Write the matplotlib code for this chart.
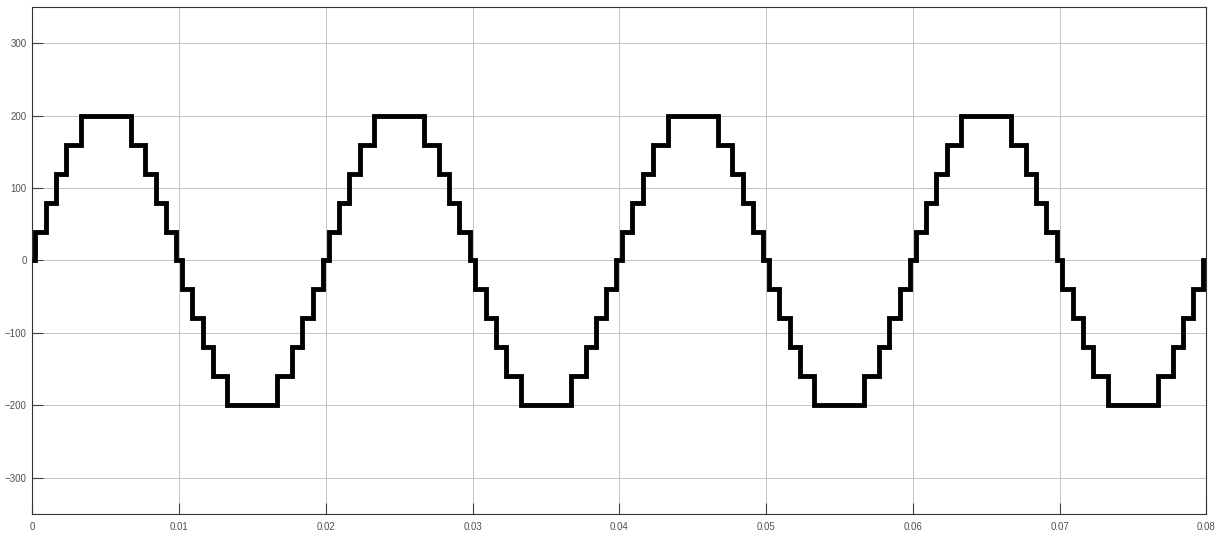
import matplotlib.pyplot as plt

# step instants (s), 4 cycles of 50 Hz
times = [0.0,
         0.0002, 0.0009, 0.0016, 0.0023, 0.0033, 0.0067, 0.0077, 0.0084, 0.0091, 0.0098,
         0.0102, 0.0109, 0.0116, 0.0123, 0.0133, 0.0167, 0.0177, 0.0184, 0.0191, 0.0198,
         0.0202, 0.0209, 0.0216, 0.0223, 0.0233, 0.0267, 0.0277, 0.0284, 0.0291, 0.0298,
         0.0302, 0.0309, 0.0316, 0.0323, 0.0333, 0.0367, 0.0377, 0.0384, 0.0391, 0.0398,
         0.0402, 0.0409, 0.0416, 0.0423, 0.0433, 0.0467, 0.0477, 0.0484, 0.0491, 0.0498,
         0.0502, 0.0509, 0.0516, 0.0523, 0.0533, 0.0567, 0.0577, 0.0584, 0.0591, 0.0598,
         0.0602, 0.0609, 0.0616, 0.0623, 0.0633, 0.0667, 0.0677, 0.0684, 0.0691, 0.0698,
         0.0702, 0.0709, 0.0716, 0.0723, 0.0733, 0.0767, 0.0777, 0.0784, 0.0791, 0.0798,
         0.08]

# voltage level held from each instant on
levels = [0,
          40, 80, 120, 160, 200, 160, 120, 80, 40, 0,
          -40, -80, -120, -160, -200, -160, -120, -80, -40, 0,
          40, 80, 120, 160, 200, 160, 120, 80, 40, 0,
          -40, -80, -120, -160, -200, -160, -120, -80, -40, 0,
          40, 80, 120, 160, 200, 160, 120, 80, 40, 0,
          -40, -80, -120, -160, -200, -160, -120, -80, -40, 0,
          40, 80, 120, 160, 200, 160, 120, 80, 40, 0,
          -40, -80, -120, -160, -200, -160, -120, -80, -40, 0,
          0]

xticks = [0, 0.01, 0.02, 0.03, 0.04, 0.05, 0.06, 0.07, 0.08]
xticklabels = ['0', '0.01', '0.02', '0.03', '0.04', '0.05', '0.06', '0.07', '0.08']
yticks = [-300, -200, -100, 0, 100, 200, 300]

plt.rcParams['font.family'] = ['Liberation Sans', 'DejaVu Sans']

fig = plt.figure(figsize=(12.24, 5.36), dpi=100)
fig.patch.set_facecolor('white')
ax = fig.add_axes([0.0264, 0.041, 0.9591, 0.946])

ax.step(times, levels, where='post', color='black', linewidth=3.5,
        solid_joinstyle='miter', solid_capstyle='butt', zorder=3)

ax.set_xlim(0, 0.08)
ax.set_ylim(-350, 350)
ax.set_xticks(xticks)
ax.set_xticklabels(xticklabels)
ax.set_yticks(yticks)

ax.grid(True, color='#c4c4c4', linewidth=0.7)
ax.tick_params(direction='in', length=8, width=0.8, color='#404040',
               labelsize=7, labelcolor='#505050', pad=6)
ax.tick_params(axis='y', pad=4)
for s in ax.spines.values():
    s.set_color('#333333')
    s.set_linewidth(0.8)

fig.savefig('out.png', dpi=100, facecolor='white')
